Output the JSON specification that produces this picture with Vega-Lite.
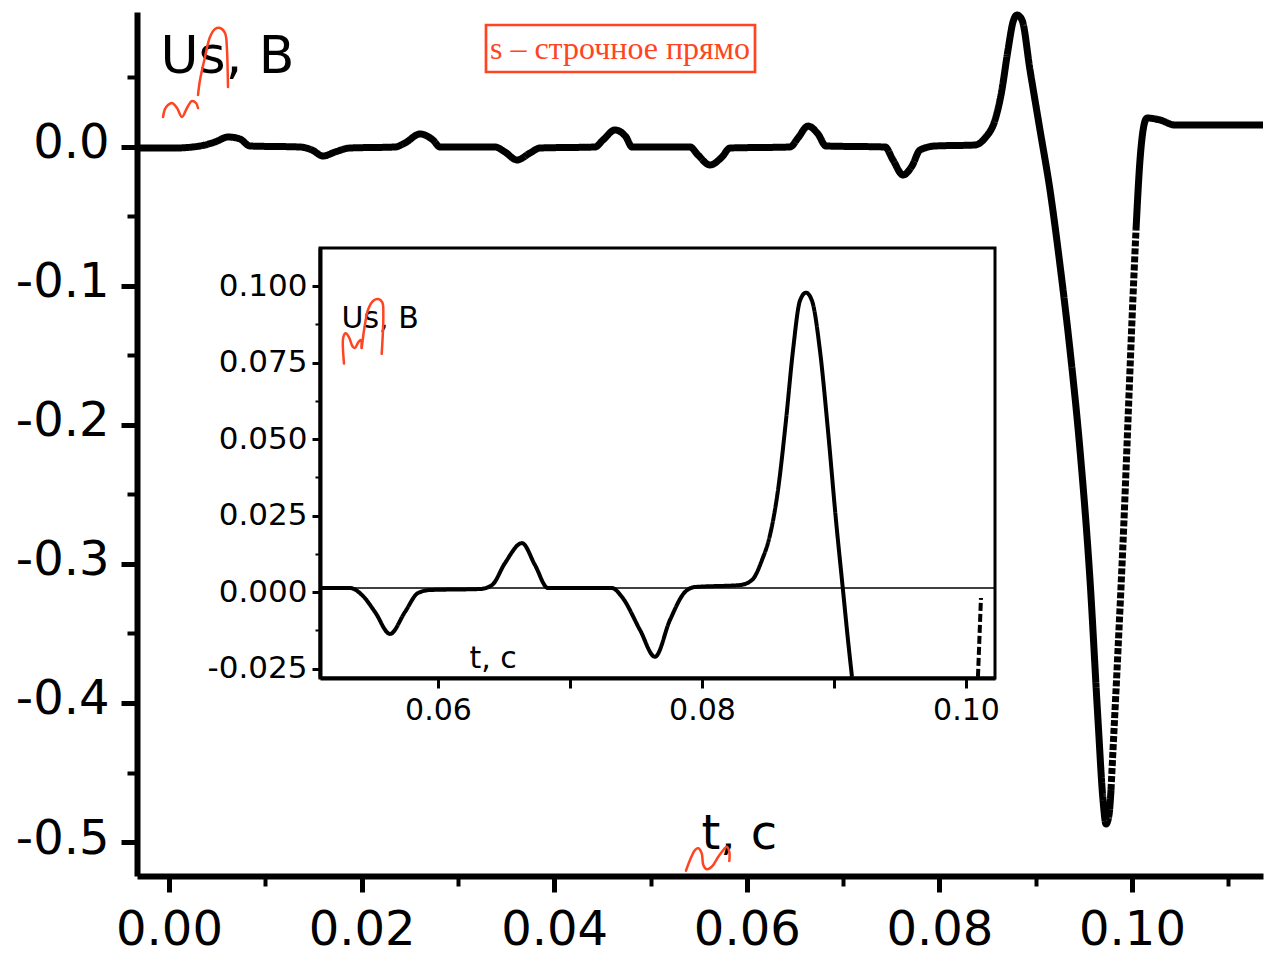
{
  "$schema": "https://vega.github.io/schema/vega-lite/v6.json",
  "width": 1126,
  "height": 864,
  "autosize": {"type": "none"},
  "padding": {"left": 137, "top": 12, "right": 12, "bottom": 82},
  "background": "white",
  "config": {
    "view": {"stroke": null},
    "font": "DejaVu Sans",
    "axis": {
      "grid": false,
      "labelFont": "DejaVu Sans",
      "titleFont": "DejaVu Sans",
      "labelColor": "black",
      "titleColor": "black",
      "domainColor": "black",
      "tickColor": "black",
      "labelFlush": false,
      "labelOverlap": false,
      "labelBound": false,
      "titleFontWeight": "normal"
    }
  },
  "datasets": {
    "main": [
      {"t": -0.003323, "v": -0.00072, "seg": "a"},
      {"t": 0.000623, "v": -0.00072, "seg": "a"},
      {"t": 0.003219, "v": 0.00072, "seg": "a"},
      {"t": 0.004777, "v": 0.0036, "seg": "a"},
      {"t": 0.006127, "v": 0.00719, "seg": "a"},
      {"t": 0.007373, "v": 0.00576, "seg": "a"},
      {"t": 0.008411, "v": 0.00072, "seg": "a"},
      {"t": 0.013603, "v": 0, "seg": "a"},
      {"t": 0.014849, "v": -0.00216, "seg": "a"},
      {"t": 0.015991, "v": -0.00647, "seg": "a"},
      {"t": 0.017238, "v": -0.0036, "seg": "a"},
      {"t": 0.018795, "v": -0.00072, "seg": "a"},
      {"t": 0.023468, "v": 0, "seg": "a"},
      {"t": 0.024507, "v": 0.00288, "seg": "a"},
      {"t": 0.026064, "v": 0.00935, "seg": "a"},
      {"t": 0.027414, "v": 0.00504, "seg": "a"},
      {"t": 0.028141, "v": 0, "seg": "a"},
      {"t": 0.033853, "v": 0, "seg": "a"},
      {"t": 0.034891, "v": -0.0036, "seg": "a"},
      {"t": 0.036137, "v": -0.00935, "seg": "a"},
      {"t": 0.037487, "v": -0.00432, "seg": "a"},
      {"t": 0.038525, "v": -0.00072, "seg": "a"},
      {"t": 0.044237, "v": 0, "seg": "a"},
      {"t": 0.045067, "v": 0.00504, "seg": "a"},
      {"t": 0.046314, "v": 0.01223, "seg": "a"},
      {"t": 0.047456, "v": 0.00719, "seg": "a"},
      {"t": 0.048079, "v": 0, "seg": "a"},
      {"t": 0.054102, "v": 0, "seg": "a"},
      {"t": 0.054933, "v": -0.00576, "seg": "a"},
      {"t": 0.056179, "v": -0.01295, "seg": "a"},
      {"t": 0.057425, "v": -0.00719, "seg": "a"},
      {"t": 0.058256, "v": -0.00072, "seg": "a"},
      {"t": 0.064486, "v": 0, "seg": "a"},
      {"t": 0.065317, "v": 0.00647, "seg": "a"},
      {"t": 0.066355, "v": 0.01511, "seg": "a"},
      {"t": 0.067394, "v": 0.00935, "seg": "a"},
      {"t": 0.068224, "v": 0.00072, "seg": "a"},
      {"t": 0.074351, "v": 0, "seg": "a"},
      {"t": 0.075182, "v": -0.00935, "seg": "a"},
      {"t": 0.07622, "v": -0.02014, "seg": "a"},
      {"t": 0.077155, "v": -0.01367, "seg": "a"},
      {"t": 0.077985, "v": -0.00216, "seg": "a"},
      {"t": 0.079543, "v": 0.00072, "seg": "a"},
      {"t": 0.083697, "v": 0.00144, "seg": "a"},
      {"t": 0.084735, "v": 0.00647, "seg": "a"},
      {"t": 0.085774, "v": 0.01942, "seg": "a"},
      {"t": 0.086397, "v": 0.03741, "seg": "a"},
      {"t": 0.087124, "v": 0.06978, "seg": "a"},
      {"t": 0.087643, "v": 0.08993, "seg": "a"},
      {"t": 0.088058, "v": 0.09496, "seg": "a"},
      {"t": 0.088577, "v": 0.09137, "seg": "a"},
      {"t": 0.089408, "v": 0.0554, "seg": "a"},
      {"t": 0.090446, "v": 0.01223, "seg": "a"},
      {"t": 0.091485, "v": -0.03094, "seg": "a"},
      {"t": 0.092523, "v": -0.08489, "seg": "a"},
      {"t": 0.093562, "v": -0.14604, "seg": "a"},
      {"t": 0.0946, "v": -0.21799, "seg": "a"},
      {"t": 0.095639, "v": -0.31151, "seg": "a"},
      {"t": 0.096469, "v": -0.41223, "seg": "a"},
      {"t": 0.096989, "v": -0.46978, "seg": "a"},
      {"t": 0.0973, "v": -0.48705, "seg": "a"},
      {"t": 0.097612, "v": -0.48058, "seg": "a"},
      {"t": 0.097819, "v": -0.46259, "seg": "a"},
      {"t": 0.097819, "v": -0.46259, "seg": "dot"},
      {"t": 0.098027, "v": -0.43381, "seg": "dot"},
      {"t": 0.098546, "v": -0.36187, "seg": "dot"},
      {"t": 0.099169, "v": -0.26835, "seg": "dot"},
      {"t": 0.099585, "v": -0.1964, "seg": "dot"},
      {"t": 0.1, "v": -0.12446, "seg": "dot"},
      {"t": 0.100415, "v": -0.05971, "seg": "dot"},
      {"t": 0.100415, "v": -0.05971, "seg": "c"},
      {"t": 0.100831, "v": -0.00935, "seg": "c"},
      {"t": 0.101246, "v": 0.01583, "seg": "c"},
      {"t": 0.101558, "v": 0.02086, "seg": "c"},
      {"t": 0.102908, "v": 0.01942, "seg": "c"},
      {"t": 0.104465, "v": 0.01583, "seg": "c"},
      {"t": 0.113603, "v": 0.01583, "seg": "c"}
    ],
    "inset": [
      {"t": 0.05106, "v": 0.0013, "seg": "solid"},
      {"t": 0.053333, "v": 0.0013, "seg": "solid"},
      {"t": 0.054242, "v": -0.00098, "seg": "solid"},
      {"t": 0.055227, "v": -0.00652, "seg": "solid"},
      {"t": 0.056364, "v": -0.01369, "seg": "solid"},
      {"t": 0.0575, "v": -0.00652, "seg": "solid"},
      {"t": 0.058485, "v": -0.00033, "seg": "solid"},
      {"t": 0.059394, "v": 0.00065, "seg": "solid"},
      {"t": 0.063182, "v": 0.00098, "seg": "solid"},
      {"t": 0.064091, "v": 0.00228, "seg": "solid"},
      {"t": 0.065076, "v": 0.00946, "seg": "solid"},
      {"t": 0.066364, "v": 0.01598, "seg": "solid"},
      {"t": 0.067348, "v": 0.0088, "seg": "solid"},
      {"t": 0.068333, "v": 0.0013, "seg": "solid"},
      {"t": 0.073182, "v": 0.0013, "seg": "solid"},
      {"t": 0.073939, "v": -0.00163, "seg": "solid"},
      {"t": 0.075303, "v": -0.01239, "seg": "solid"},
      {"t": 0.076439, "v": -0.02119, "seg": "solid"},
      {"t": 0.077576, "v": -0.00913, "seg": "solid"},
      {"t": 0.078712, "v": 0, "seg": "solid"},
      {"t": 0.07947, "v": 0.00163, "seg": "solid"},
      {"t": 0.082879, "v": 0.00228, "seg": "solid"},
      {"t": 0.083788, "v": 0.00391, "seg": "solid"},
      {"t": 0.084545, "v": 0.01043, "seg": "solid"},
      {"t": 0.085152, "v": 0.01859, "seg": "solid"},
      {"t": 0.085758, "v": 0.03326, "seg": "solid"},
      {"t": 0.086364, "v": 0.05608, "seg": "solid"},
      {"t": 0.086894, "v": 0.0789, "seg": "solid"},
      {"t": 0.087424, "v": 0.09521, "seg": "solid"},
      {"t": 0.087879, "v": 0.09782, "seg": "solid"},
      {"t": 0.088333, "v": 0.09521, "seg": "solid"},
      {"t": 0.088939, "v": 0.0789, "seg": "solid"},
      {"t": 0.089545, "v": 0.05282, "seg": "solid"},
      {"t": 0.090152, "v": 0.02348, "seg": "solid"},
      {"t": 0.090682, "v": 0.00065, "seg": "solid"},
      {"t": 0.091061, "v": -0.01565, "seg": "solid"},
      {"t": 0.091364, "v": -0.02771, "seg": "solid"},
      {"t": 0.100909, "v": -0.02771, "seg": "dash"},
      {"t": 0.101136, "v": -0.00196, "seg": "dash"}
    ],
    "redMain": [
      {"s": "a", "i": 0, "t": -0.000623, "v": 0.02158},
      {"s": "a", "i": 1, "t": -0.000415, "v": 0.02734},
      {"s": "a", "i": 2, "t": -0.000104, "v": 0.03022},
      {"s": "a", "i": 3, "t": 0.000311, "v": 0.03165},
      {"s": "a", "i": 4, "t": 0.000831, "v": 0.02806},
      {"s": "a", "i": 5, "t": 0.00135, "v": 0.02158},
      {"s": "a", "i": 6, "t": 0.001869, "v": 0.02806},
      {"s": "a", "i": 7, "t": 0.002388, "v": 0.03309},
      {"s": "a", "i": 8, "t": 0.002804, "v": 0.03165},
      {"s": "a", "i": 9, "t": 0.003012, "v": 0.02806},
      {"s": "b", "i": 0, "t": 0.003012, "v": 0.03741},
      {"s": "b", "i": 1, "t": 0.003219, "v": 0.0482},
      {"s": "b", "i": 2, "t": 0.003738, "v": 0.06475},
      {"s": "b", "i": 3, "t": 0.004257, "v": 0.07914},
      {"s": "b", "i": 4, "t": 0.004777, "v": 0.08489},
      {"s": "b", "i": 5, "t": 0.005296, "v": 0.08561},
      {"s": "b", "i": 6, "t": 0.005815, "v": 0.08201},
      {"s": "b", "i": 7, "t": 0.006023, "v": 0.06978},
      {"s": "b", "i": 8, "t": 0.006127, "v": 0.04317},
      {"s": "c", "i": 0, "t": 0.053686, "v": -0.52065},
      {"s": "c", "i": 1, "t": 0.054102, "v": -0.51295},
      {"s": "c", "i": 2, "t": 0.054621, "v": -0.50576},
      {"s": "c", "i": 3, "t": 0.054964, "v": -0.50453},
      {"s": "c", "i": 4, "t": 0.055317, "v": -0.50813},
      {"s": "c", "i": 5, "t": 0.055483, "v": -0.51655},
      {"s": "c", "i": 6, "t": 0.055836, "v": -0.51964},
      {"s": "c", "i": 7, "t": 0.056355, "v": -0.51777},
      {"s": "c", "i": 8, "t": 0.057041, "v": -0.51058},
      {"s": "c", "i": 9, "t": 0.05756, "v": -0.50576},
      {"s": "c", "i": 10, "t": 0.057913, "v": -0.50338},
      {"s": "c", "i": 11, "t": 0.058183, "v": -0.50698},
      {"s": "c", "i": 12, "t": 0.058183, "v": -0.51367}
    ],
    "redInset": [
      {"s": "d", "i": 0, "t": 0.052879, "v": 0.07467},
      {"s": "d", "i": 1, "t": 0.052826, "v": 0.08324},
      {"s": "d", "i": 2, "t": 0.053008, "v": 0.08455},
      {"s": "d", "i": 3, "t": 0.053258, "v": 0.08324},
      {"s": "d", "i": 4, "t": 0.053538, "v": 0.08021},
      {"s": "d", "i": 5, "t": 0.053712, "v": 0.07978},
      {"s": "d", "i": 6, "t": 0.053962, "v": 0.08161},
      {"s": "d", "i": 7, "t": 0.054144, "v": 0.08239},
      {"s": "d", "i": 8, "t": 0.05422, "v": 0.07978},
      {"s": "e", "i": 0, "t": 0.05422, "v": 0.07978},
      {"s": "e", "i": 1, "t": 0.05447, "v": 0.08761},
      {"s": "e", "i": 2, "t": 0.05472, "v": 0.0925},
      {"s": "e", "i": 3, "t": 0.055098, "v": 0.09521},
      {"s": "e", "i": 4, "t": 0.055477, "v": 0.09576},
      {"s": "e", "i": 5, "t": 0.05578, "v": 0.09465},
      {"s": "e", "i": 6, "t": 0.055856, "v": 0.08976},
      {"s": "e", "i": 7, "t": 0.055735, "v": 0.07783}
    ]
  },
  "layer": [
    {
      "layer": [
        {
          "data": {"name": "main"},
          "mark": {"type": "line", "color": "black", "strokeWidth": 7, "strokeCap": "butt", "strokeJoin": "round", "interpolate": "monotone"},
          "encoding": {
            "x": {
              "field": "t", "type": "quantitative",
              "scale": {"domain": [-0.003323, 0.113603], "nice": false, "zero": false},
              "axis": {
                "orient": "bottom",
                "values": [0, 0.02, 0.04, 0.06, 0.08, 0.1],
                "format": ".2f",
                "tickSize": 16, "tickWidth": 5, "domainWidth": 6,
                "labelFontSize": 48, "labelPadding": 14, "labelBaseline": "top",
                "title": "t, c", "titleFontSize": 48, "titleX": 564, "titleY": -28,
                "titleAlign": "left", "titleBaseline": "alphabetic", "titleAngle": 0
              }
            },
            "y": {
              "field": "v", "type": "quantitative",
              "scale": {"domain": [-0.52446, 0.09712], "nice": false, "zero": false},
              "axis": {
                "orient": "left",
                "values": [-0.5, -0.4, -0.3, -0.2, -0.1, 0],
                "labelExpr": "replace(format(datum.value, '.1f'), '\u2212', '-')",
                "tickSize": 16, "tickWidth": 5, "domainWidth": 6,
                "labelFontSize": 48, "labelPadding": 12, "labelOffset": -3,
                "title": "Us, B", "titleFontSize": 52, "titleAngle": 0,
                "titleX": 23, "titleY": 60, "titleAlign": "left", "titleBaseline": "alphabetic"
              }
            },
            "strokeDash": {
              "field": "seg", "type": "nominal",
              "scale": {"domain": ["a", "dot", "c"], "range": [[1, 0], [6, 2], [1, 0]]},
              "legend": null
            }
          }
        },
        {
          "data": {"values": [{}]},
          "mark": {"type": "rect", "fill": "transparent", "stroke": "#ff4422", "strokeWidth": 2.7},
          "encoding": {
            "x": {"datum": 0.032918, "type": "quantitative"},
            "x2": {"datum": 0.060851},
            "y": {"datum": 0.08777, "type": "quantitative"},
            "y2": {"datum": 0.053957}
          }
        },
        {
          "data": {"values": [{"label": "s – строчное прямо"}]},
          "mark": {"type": "text", "font": "Liberation Serif", "fontSize": 32, "color": "#ff4422", "align": "center", "baseline": "alphabetic"},
          "encoding": {
            "x": {"datum": 0.046833, "type": "quantitative"},
            "y": {"datum": 0.06331, "type": "quantitative"},
            "text": {"field": "label"}
          }
        },
        {
          "data": {"name": "redMain"},
          "mark": {"type": "line", "color": "#ff4422", "strokeWidth": 2.5, "strokeCap": "round", "interpolate": "catmull-rom"},
          "encoding": {
            "x": {"field": "t", "type": "quantitative"},
            "y": {"field": "v", "type": "quantitative"},
            "detail": {"field": "s"},
            "order": {"field": "i"}
          }
        }
      ]
    },
    {
      "data": {"name": "main"},
      "mark": {"type": "line", "opacity": 0},
      "encoding": {
        "x": {
          "field": "t", "type": "quantitative",
          "scale": {"domain": [-0.003323, 0.113603], "nice": false, "zero": false},
          "axis": {"orient": "bottom", "values": [0.01, 0.03, 0.05, 0.07, 0.09, 0.11], "tickSize": 10, "tickWidth": 4, "labels": false, "domain": false, "title": null}
        },
        "y": {
          "field": "v", "type": "quantitative",
          "scale": {"domain": [-0.52446, 0.09712], "nice": false, "zero": false},
          "axis": {"orient": "left", "values": [-0.45, -0.35, -0.25, -0.15, -0.05, 0.05], "tickSize": 10, "tickWidth": 4, "labels": false, "domain": false, "title": null}
        }
      }
    },
    {
      "layer": [
        {
          "data": {"name": "inset"},
          "mark": {"type": "line", "color": "black", "strokeWidth": 4, "strokeJoin": "round", "interpolate": "monotone"},
          "encoding": {
            "x": {
              "field": "t", "type": "quantitative",
              "scale": {"domain": [0.05106, 0.1022], "range": [183, 858], "nice": false, "zero": false},
              "axis": {
                "orient": "bottom", "offset": -198,
                "values": [0.06, 0.07, 0.08, 0.09, 0.1],
                "labelExpr": "round(datum.value * 100) % 2 == 0 ? format(datum.value, '.2f') : ''",
                "tickSize": 10, "tickWidth": 3, "domainWidth": 4,
                "labelFontSize": 30, "labelPadding": 7, "labelBaseline": "top",
                "title": "t, c", "titleFontSize": 30, "titleX": 332, "titleY": -11,
                "titleAlign": "left", "titleBaseline": "alphabetic", "titleAngle": 0
              }
            },
            "y": {
              "field": "v", "type": "quantitative",
              "scale": {"domain": [-0.0281, 0.11242], "range": [666, 236], "nice": false, "zero": false},
              "axis": {
                "orient": "left", "offset": -183,
                "values": [-0.025, 0, 0.025, 0.05, 0.075, 0.1],
                "labelExpr": "replace(format(datum.value, '.3f'), '\u2212', '-')",
                "tickSize": 8, "tickWidth": 3, "domainWidth": 4,
                "labelFontSize": 31, "labelPadding": 5,
                "title": "Us, B", "titleFontSize": 30, "titleAngle": 0,
                "titleX": 21, "titleY": 315, "titleAlign": "left", "titleBaseline": "alphabetic"
              }
            },
            "strokeDash": {
              "field": "seg", "type": "nominal",
              "scale": {"domain": ["solid", "dash"], "range": [[1, 0], [8, 3]]},
              "legend": null
            }
          }
        },
        {
          "data": {"values": [{}]},
          "mark": {"type": "rect", "fill": "transparent", "stroke": "black", "strokeWidth": 3},
          "encoding": {
            "x": {"datum": 0.05106, "type": "quantitative"},
            "x2": {"datum": 0.1022},
            "y": {"datum": -0.0281, "type": "quantitative"},
            "y2": {"datum": 0.11242}
          }
        },
        {
          "data": {"values": [{}]},
          "mark": {"type": "rule", "color": "black", "strokeWidth": 1.5},
          "encoding": {
            "x": {"datum": 0.05106, "type": "quantitative"},
            "x2": {"datum": 0.1022},
            "y": {"datum": 0.0013, "type": "quantitative"}
          }
        },
        {
          "data": {"name": "redInset"},
          "mark": {"type": "line", "color": "#ff4422", "strokeWidth": 2.5, "strokeCap": "round", "interpolate": "catmull-rom"},
          "encoding": {
            "x": {"field": "t", "type": "quantitative"},
            "y": {"field": "v", "type": "quantitative"},
            "detail": {"field": "s"},
            "order": {"field": "i"}
          }
        }
      ]
    },
    {
      "data": {"name": "inset"},
      "mark": {"type": "line", "opacity": 0},
      "encoding": {
        "x": {
          "field": "t", "type": "quantitative",
          "scale": {"domain": [0.05106, 0.1022], "range": [183, 858], "nice": false, "zero": false},
          "axis": null
        },
        "y": {
          "field": "v", "type": "quantitative",
          "scale": {"domain": [-0.0281, 0.11242], "range": [666, 236], "nice": false, "zero": false},
          "axis": {"orient": "left", "offset": -183, "values": [-0.0125, 0.0125, 0.0375, 0.0625, 0.0875], "tickSize": 5, "tickWidth": 2, "labels": false, "domain": false, "title": null}
        }
      }
    }
  ],
  "resolve": {"scale": {"x": "independent", "y": "independent", "strokeDash": "independent"}}
}
